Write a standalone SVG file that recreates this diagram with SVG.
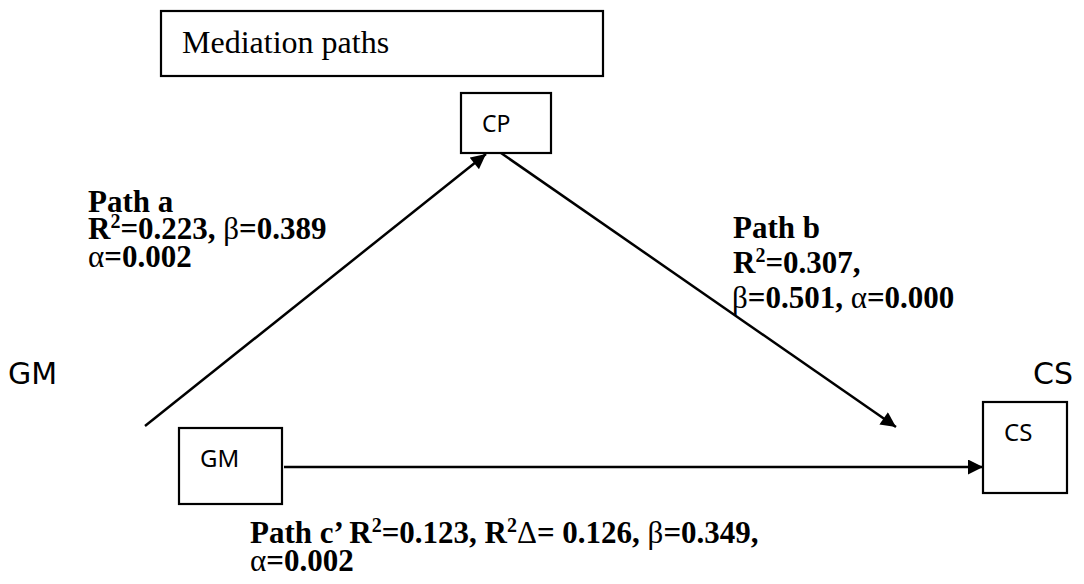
<svg xmlns="http://www.w3.org/2000/svg" width="1084" height="584" viewBox="0 0 1084 584">
<style>
.box{fill:#fff;stroke:#000;stroke-width:2.2}
.ln{stroke:#000;stroke-width:2.5;fill:none}
.sans{font-family:"Noto Sans","Open Sans","DejaVu Sans",sans-serif;fill:#000}
.serif{font-family:"Liberation Serif","Times New Roman",serif;fill:#000}
.b{font-family:"Liberation Serif","Times New Roman",serif;font-weight:bold;font-size:31px;fill:#000}
.g{font-weight:normal}
.sup{font-size:20px}
</style>
<defs>
<marker id="ah" viewBox="0 0 10 10" refX="10" refY="5" markerWidth="6.4" markerHeight="6" markerUnits="strokeWidth" orient="auto">
<path d="M0,0 L10,5 L0,10 z" fill="#000"/>
</marker>
</defs>
<g id="title">
<rect class="box" x="161" y="11" width="442" height="65"/>
<text class="serif" x="182" y="53" font-size="32">Mediation paths</text>
</g>
<g id="node-CP">
<rect class="box" x="461" y="93" width="90" height="60"/>
<text class="sans" x="482" y="132" font-size="23">CP</text>
</g>
<g id="node-GM">
<rect class="box" x="179" y="428" width="103" height="76"/>
<text class="sans" x="200" y="467" font-size="24">GM</text>
</g>
<g id="node-CS">
<rect class="box" x="983" y="402" width="84" height="91"/>
<text class="sans" x="1004" y="441" font-size="24">CS</text>
</g>
<g id="labels-outer">
<text class="sans" x="8" y="384" font-size="30" style="font-family:'DejaVu Sans',sans-serif">GM</text>
<text class="sans" x="1033" y="384" font-size="30" style="font-family:'DejaVu Sans',sans-serif">CS</text>
</g>
<g id="connectors">
<line class="ln" x1="145" y1="426" x2="486" y2="154" marker-end="url(#ah)"/>
<line class="ln" x1="501" y1="153" x2="896" y2="427" marker-end="url(#ah)"/>
<line class="ln" x1="284" y1="467" x2="983" y2="467" marker-end="url(#ah)"/>
</g>
<g id="label-a">
<text class="b" x="88" y="212">Path a</text>
<text class="b" x="88" y="239">R<tspan class="sup" dy="-11">2</tspan><tspan dy="11">=0.223, </tspan><tspan class="g">β</tspan>=0.389</text>
<text class="b" x="88" y="267"><tspan class="g">α</tspan>=0.002</text>
</g>
<g id="label-b">
<text class="b" x="733" y="238">Path b</text>
<text class="b" x="733" y="273">R<tspan class="sup" dy="-11">2</tspan><tspan dy="11">=0.307,</tspan></text>
<text class="b" x="732" y="308"><tspan class="g">β</tspan>=0.501, <tspan class="g">α</tspan>=0.000</text>
</g>
<g id="label-c">
<text class="b" x="250" y="543">Path c’ R<tspan class="sup" dy="-11">2</tspan><tspan dy="11">=0.123, R</tspan><tspan class="sup" dy="-11">2</tspan><tspan class="g" dy="11">Δ</tspan>= 0.126, <tspan class="g">β</tspan>=0.349,</text>
<text class="b" x="250" y="571"><tspan class="g">α</tspan>=0.002</text>
</g>
</svg>
